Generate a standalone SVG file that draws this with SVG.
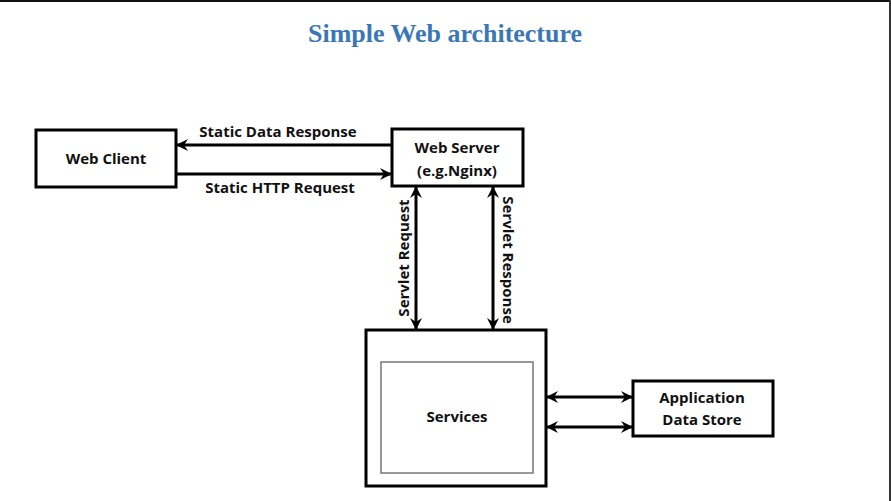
<svg xmlns="http://www.w3.org/2000/svg" width="891" height="501" viewBox="0 0 891 501">
<style>
.box{fill:#fff;stroke:#000;stroke-width:3}
.inner{fill:#fff;stroke:#777;stroke-width:1.5}
.lbl{font-family:"Open Sans","Liberation Sans",sans-serif;font-weight:bold;font-size:15px;fill:#111;text-anchor:middle}
.con{stroke:#000;stroke-width:3;fill:none}
.title{font-family:"Liberation Serif",serif;font-weight:bold;font-size:25px;fill:#3a78b5;text-anchor:middle}
</style>
<defs>
<marker id="ah" viewBox="0 0 12 12" refX="11" refY="6" markerWidth="12" markerHeight="12" markerUnits="userSpaceOnUse" orient="auto-start-reverse">
<path d="M0,0 L12,6 L0,12 L4,6 z" fill="#000"/>
</marker>
</defs>
<rect x="0" y="0" width="891" height="501" fill="#fff"/>
<rect x="0" y="0" width="891" height="2" fill="#111"/>
<rect x="889" y="0" width="2" height="501" fill="#333"/>
<text class="title" x="445" y="42" textLength="274" lengthAdjust="spacingAndGlyphs">Simple Web architecture</text>
<g id="web-client">
<rect class="box" x="36" y="130" width="140" height="57"/>
<text class="lbl" x="106" y="164">Web Client</text>
</g>
<g id="web-server">
<rect class="box" x="392" y="129" width="131" height="57"/>
<text class="lbl" x="457" y="153">Web Server</text>
<text class="lbl" x="457" y="176">(e.g.Nginx)</text>
</g>
<g id="services">
<rect class="box" x="366" y="330" width="180" height="156"/>
<rect class="inner" x="381" y="362" width="152" height="111"/>
<text class="lbl" x="457" y="422">Services</text>
</g>
<g id="data-store">
<rect class="box" x="633" y="381" width="140" height="55"/>
<text class="lbl" x="702" y="403">Application</text>
<text class="lbl" x="702" y="425">Data Store</text>
</g>
<g id="connectors">
<line class="con" x1="392" y1="145" x2="177" y2="145" marker-end="url(#ah)"/>
<line class="con" x1="176" y1="174" x2="391" y2="174" marker-end="url(#ah)"/>
<line class="con" x1="416" y1="187" x2="416" y2="329" marker-start="url(#ah)" marker-end="url(#ah)"/>
<line class="con" x1="493" y1="187" x2="493" y2="329" marker-start="url(#ah)" marker-end="url(#ah)"/>
<line class="con" x1="547" y1="397" x2="632" y2="397" marker-start="url(#ah)" marker-end="url(#ah)"/>
<line class="con" x1="547" y1="427" x2="632" y2="427" marker-start="url(#ah)" marker-end="url(#ah)"/>
<text class="lbl" x="278" y="137">Static Data Response</text>
<text class="lbl" x="280" y="193">Static HTTP Request</text>
<text class="lbl" transform="translate(409,258) rotate(-90)">Servlet Request</text>
<text class="lbl" transform="translate(503,260) rotate(90)">Servlet Response</text>
</g>
</svg>
